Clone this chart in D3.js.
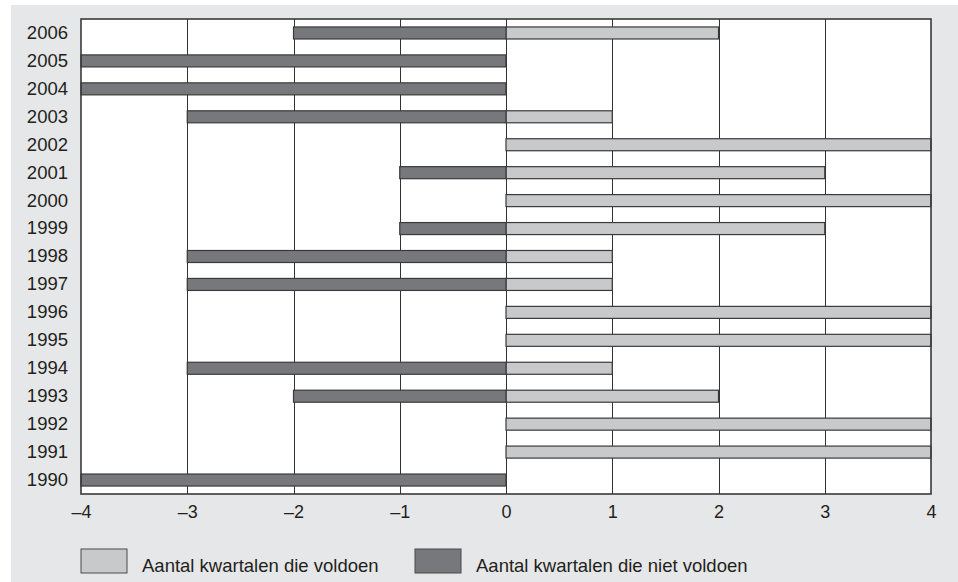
<!DOCTYPE html>
<html>
<head>
<meta charset="utf-8">
<script src="https://cdn.jsdelivr.net/npm/d3@7"></script>
<style>
  html, body { margin: 0; padding: 0; background: #ffffff; }
  svg { display: block; }
</style>
</head>
<body>
<svg id="chart" width="958" height="582"></svg>
<script>
// ---- data ----
const years = ["2006","2005","2004","2003","2002","2001","2000","1999","1998","1997","1996","1995","1994","1993","1992","1991","1990"];
const voldoen =     [2, 0, 0, 1, 4, 3, 4, 3, 1, 1, 4, 4, 1, 2, 4, 4, 0];
const nietVoldoen = [2, 4, 4, 3, 0, 1, 0, 1, 3, 3, 0, 0, 3, 2, 0, 0, 4];
const xTicks = [-4, -3, -2, -1, 0, 1, 2, 3, 4];
const legendLabels = ["Aantal kwartalen die voldoen", "Aantal kwartalen die niet voldoen"];

// ---- styles ----
const colLight = "#c8c9cb", colDark = "#77787b", strokeCol = "#3a3a3a";
const font = "'Liberation Sans', Arial, Helvetica, sans-serif";

const svg = d3.select("#chart");
svg.append("rect").attr("x", 11).attr("y", 5).attr("width", 947).attr("height", 577).attr("fill", "#e6e7e8");

const pL = 81, pR = 931, pT = 19, pB = 494;
const x = d3.scaleLinear().domain([-4, 4]).range([pL, pR]);
const y = d3.scaleBand().domain(years).range([pT, pB]).paddingInner(0.57).paddingOuter(0.285);

// plot area
svg.append("rect").attr("x", pL).attr("y", pT).attr("width", pR - pL).attr("height", pB - pT)
  .attr("fill", "#ffffff");

// vertical grid lines
svg.append("g").selectAll("line").data(xTicks.slice(1, -1)).join("line")
  .attr("x1", d => Math.round(x(d)) + 0.5).attr("x2", d => Math.round(x(d)) + 0.5)
  .attr("y1", pT).attr("y2", pB)
  .attr("stroke", "#333").attr("stroke-width", 1);

const rows = years.map((yr, i) => ({ yr, pos: voldoen[i], neg: nietVoldoen[i] }));

// light bars (voldoen)
svg.append("g").selectAll("rect").data(rows.filter(d => d.pos > 0)).join("rect")
  .attr("x", x(0)).attr("width", d => x(d.pos) - x(0))
  .attr("y", d => y(d.yr)).attr("height", y.bandwidth())
  .attr("fill", colLight).attr("stroke", strokeCol).attr("stroke-width", 1.2);

// dark bars (niet voldoen)
svg.append("g").selectAll("rect").data(rows.filter(d => d.neg > 0)).join("rect")
  .attr("x", d => x(-d.neg)).attr("width", d => x(0) - x(-d.neg))
  .attr("y", d => y(d.yr)).attr("height", y.bandwidth())
  .attr("fill", colDark).attr("stroke", strokeCol).attr("stroke-width", 1.2);

// plot border
svg.append("rect").attr("x", pL).attr("y", pT).attr("width", pR - pL).attr("height", pB - pT)
  .attr("fill", "none").attr("stroke", strokeCol).attr("stroke-width", 1.6);

// y axis labels
const yAxis = d3.axisLeft(y).tickSize(0).tickPadding(13);
const gy = svg.append("g").attr("transform", `translate(${pL},0)`).call(yAxis);
gy.select(".domain").remove();
gy.selectAll("text").attr("font-family", font).attr("font-size", 18.5).attr("fill", "#231f20");

// x axis labels
const xAxis = d3.axisBottom(x).tickValues(xTicks).tickSize(0).tickPadding(11)
  .tickFormat(d => d < 0 ? "\u2013" + Math.abs(d) : String(d));
const gx = svg.append("g").attr("transform", `translate(0,${pB})`).call(xAxis);
gx.select(".domain").remove();
gx.selectAll("text").attr("font-family", font).attr("font-size", 18).attr("fill", "#231f20");

// legend
const legendX = [81, 415];
const legendCols = [colLight, colDark];
const lg = svg.append("g").selectAll("g").data(legendLabels).join("g")
  .attr("transform", (d, i) => `translate(${legendX[i]},549)`);
lg.append("rect").attr("width", 46).attr("height", 24)
  .attr("fill", (d, i) => legendCols[i]).attr("stroke", "#4a4a4a").attr("stroke-width", 1);
lg.append("text").attr("x", 61).attr("y", 23).text(d => d)
  .attr("font-family", font).attr("font-size", 18.5).attr("fill", "#231f20");
</script>
</body>
</html>
